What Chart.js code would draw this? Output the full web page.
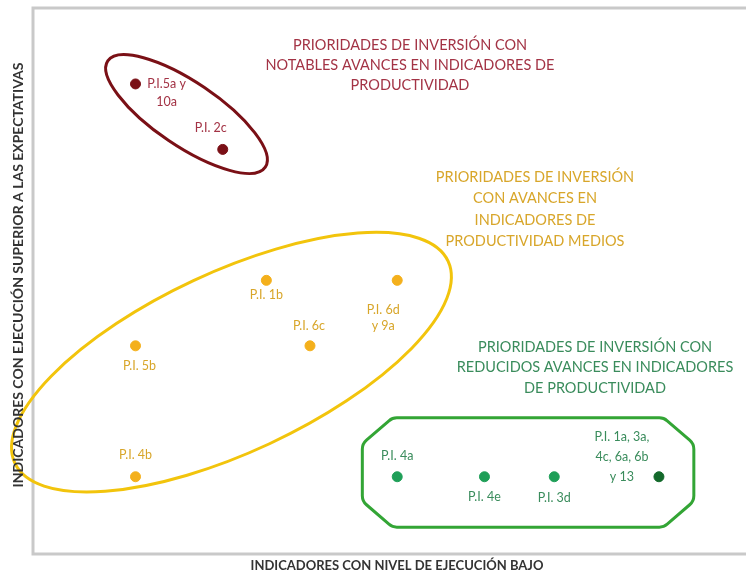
<!DOCTYPE html>
<html>
<head>
<meta charset="utf-8">
<script src="https://cdn.jsdelivr.net/npm/chart.js@4.4.1/dist/chart.umd.min.js"></script>
<style>
  html, body { margin: 0; padding: 0; background: #fff; }
  #wrap { width: 750px; height: 575px; }
</style>
</head>
<body>
<div id="wrap"><canvas id="matrixChart"></canvas></div>
<script>
// datos de cada grupo (unidades de la matriz)
const notablesX = [2, 4];
const notablesY = [7, 6];
const notablesLabels = ['P.I.5a y\n10a', 'P.I. 2c'];

const mediosX = [5, 8, 6, 2, 2];
const mediosY = [4, 4, 3, 3, 1];
const mediosLabels = ['P.I. 1b', 'P.I. 6d\ny 9a', 'P.I. 6c', 'P.I. 5b', 'P.I. 4b'];

const reducidosX = [8, 10, 11.6, 14];
const reducidosY = [1, 1, 1, 1];
const reducidosLabels = ['P.I. 4a', 'P.I. 4e', 'P.I. 3d', 'P.I. 1a, 3a,\n4c, 6a, 6b\ny 13'];

const groupTitles = [
    'PRIORIDADES DE INVERSIÓN CON\nNOTABLES AVANCES EN INDICADORES DE\nPRODUCTIVIDAD',
    'PRIORIDADES DE INVERSIÓN\nCON AVANCES EN\nINDICADORES DE\nPRODUCTIVIDAD MEDIOS',
    'PRIORIDADES DE INVERSIÓN CON\nREDUCIDOS AVANCES EN INDICADORES\nDE PRODUCTIVIDAD'
];
const xAxisTitle = 'INDICADORES CON NIVEL DE EJECUCIÓN BAJO';
const yAxisTitle = 'INDICADORES CON EJECUCIÓN SUPERIOR A LAS EXPECTATIVAS';

// posiciones de las etiquetas respecto al punto (px) y alto de linea
const notablesOffsets = [[31, 0, 18], [-12, -21, 18]];
const mediosOffsets = [[0, 15, 17], [-14, 30, 16], [-1, -20, 17], [4, 20, 17], [0, -22, 17]];
const reducidosOffsets = [[0, -21, 17], [0, 20, 17], [0, 21, 17], [-37, -40, 20]];

const colors = {
    red: '#7a1016', redText: '#a33345',
    yellow: '#f2c40c', yellowPoint: '#f4b01c', yellowText: '#d8a62a',
    green: '#33a535', greenPoint: '#1f9f58', greenDark: '#13692b', greenText: '#3a8c5c'
};

const toPoints = (xs, ys) => xs.map((x, i) => ({ x: x, y: ys[i] }));

const shapesPlugin = {
    id: 'shapes',
    beforeDatasetsDraw(chart) {
        const { ctx, chartArea: a, scales: { x, y } } = chart;
        ctx.save();
        // marco
        ctx.strokeStyle = '#c9c9c9';
        ctx.lineWidth = 3;
        ctx.beginPath();
        ctx.moveTo(a.right + 2, a.top);
        ctx.lineTo(a.left, a.top);
        ctx.lineTo(a.left, a.bottom);
        ctx.lineTo(a.right + 2, a.bottom);
        ctx.stroke();

        // elipses
        const ellipse = (cx, cy, rx, ry, rot, color) => {
            ctx.beginPath();
            ctx.ellipse(x.getPixelForValue(cx), y.getPixelForValue(cy), rx, ry, rot * Math.PI / 180, 0, Math.PI * 2);
            ctx.strokeStyle = color;
            ctx.lineWidth = 3;
            ctx.stroke();
        };
        ellipse(3.17, 6.54, 95, 32, 34, colors.red);
        ellipse(4.2, 2.75, 239, 90, -25, colors.yellow);

        // caja verde achaflanada (octogono con esquinas suaves)
        const l = x.getPixelForValue(7.2), r = x.getPixelForValue(14.8);
        const t = y.getPixelForValue(1.9), b = y.getPixelForValue(0.23);
        const cx = 30, cy = 26, rad = 12;
        const v = [
            [l + cx, t], [r - cx, t], [r, t + cy], [r, b - cy],
            [r - cx, b], [l + cx, b], [l, b - cy], [l, t + cy]
        ];
        ctx.beginPath();
        ctx.moveTo((v[0][0] + v[1][0]) / 2, t);
        for (let i = 1; i <= 8; i++) {
            const p = v[i % 8], n = v[(i + 1) % 8];
            ctx.arcTo(p[0], p[1], n[0], n[1], rad);
        }
        ctx.closePath();
        ctx.strokeStyle = colors.green;
        ctx.lineWidth = 3;
        ctx.stroke();
        ctx.restore();
    },
    afterDatasetsDraw(chart) {
        const { ctx, chartArea: a } = chart;
        ctx.save();
        ctx.textAlign = 'center';
        ctx.textBaseline = 'middle';

        const block = (text, px, py, lh, font, color) => {
            ctx.font = font;
            ctx.fillStyle = color;
            text.split('\n').forEach((line, i) => ctx.fillText(line, px, py + i * lh));
        };

        // etiquetas de los puntos
        const offs = [notablesOffsets, mediosOffsets, reducidosOffsets];
        const txt = [colors.redText, colors.yellowText, colors.greenText];
        chart.data.datasets.forEach((ds, di) => {
            const meta = chart.getDatasetMeta(di);
            meta.data.forEach((pt, j) => {
                const o = offs[di][j];
                block(ds.pointLabels[j], pt.x + o[0], pt.y + o[1], o[2], '12.5px Lato', txt[di]);
            });
        });

        // titulos de los grupos
        block(groupTitles[0], 410, 45, 20, '14.5px Lato', colors.redText);
        block(groupTitles[1], 535, 177, 21.5, '14.5px Lato', colors.yellowText);
        block(groupTitles[2], 595, 347, 20.5, '14.5px Lato', colors.greenText);

        // titulos de ejes
        block(xAxisTitle, 397, 566, 12, 'bold 13px Lato', '#333');
        ctx.translate(18, (a.top + a.bottom) / 2 - 6);
        ctx.rotate(-Math.PI / 2);
        block(yAxisTitle, 0, 0, 12, 'bold 14px Lato', '#333');
        ctx.restore();
    }
};

new Chart(document.getElementById('matrixChart'), {
    type: 'scatter',
    data: {
        datasets: [{
            label: 'Notables',
            data: toPoints(notablesX, notablesY),
            pointLabels: notablesLabels,
            backgroundColor: colors.red,
            borderColor: colors.red,
            pointRadius: 5
        }, {
            label: 'Medios',
            data: toPoints(mediosX, mediosY),
            pointLabels: mediosLabels,
            backgroundColor: colors.yellowPoint,
            borderColor: colors.yellowPoint,
            pointRadius: 5
        }, {
            label: 'Reducidos',
            data: toPoints(reducidosX, reducidosY),
            pointLabels: reducidosLabels,
            backgroundColor: [colors.greenPoint, colors.greenPoint, colors.greenPoint, colors.greenDark],
            borderColor: [colors.greenPoint, colors.greenPoint, colors.greenPoint, colors.greenDark],
            pointRadius: 5
        }]
    },
    options: {
        responsive: true,
        maintainAspectRatio: false,
        animation: false,
        layout: { padding: { left: 33, top: 8, right: 0, bottom: 21 } },
        scales: {
            x: { display: false, min: -0.35, max: 15.95 },
            y: { display: false, min: -0.18, max: 8.16 }
        },
        plugins: {
            legend: { display: false },
            tooltip: { enabled: false }
        }
    },
    plugins: [shapesPlugin]
});
</script>
</body>
</html>
